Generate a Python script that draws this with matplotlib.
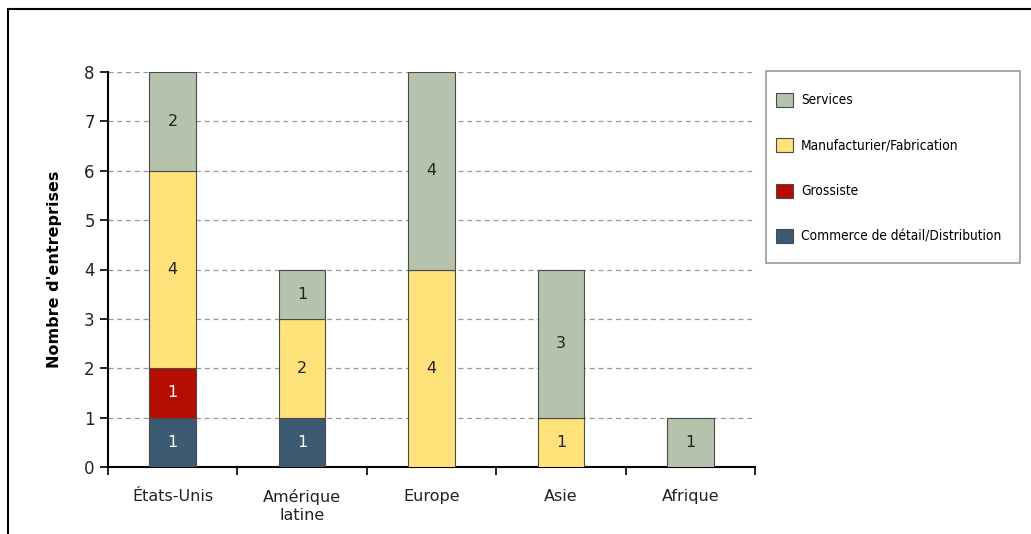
import matplotlib
matplotlib.use("Agg")
import matplotlib.pyplot as plt
from matplotlib.patches import Rectangle
import numpy as np

categories = ["États-Unis", "Amérique\nlatine", "Europe", "Asie", "Afrique"]
series_names = ["Commerce de détail/Distribution", "Grossiste",
                "Manufacturier/Fabrication", "Services"]
commerce = [1, 1, 0, 0, 0]
grossiste = [1, 0, 0, 0, 0]
manufacturier = [4, 2, 4, 1, 0]
services = [2, 1, 4, 3, 1]
yticks = [0, 1, 2, 3, 4, 5, 6, 7, 8]

colors = ["#3d5a73", "#b50d00", "#ffe27a", "#b5c3ad"]
text_colors = ["white", "white", "#222222", "#222222"]

W, H = 1031, 534
fig = plt.figure(figsize=(W/100, H/100), dpi=100)
ax = fig.add_axes([108/W, 1-467/H, (755-108)/W, (467-72)/H])

x = np.arange(len(categories))
bottom = np.zeros(len(categories))
width = 0.36
all_series = [commerce, grossiste, manufacturier, services]
handles = []
for vals, col, tc, name in zip(all_series, colors, text_colors, series_names):
    vals = np.array(vals, dtype=float)
    bars = ax.bar(x, vals, width, bottom=bottom, color=col, edgecolor="#4a4a4a",
                  linewidth=0.8, label=name, zorder=3)
    for xi, v, b in zip(x, vals, bottom):
        if v > 0:
            ax.text(xi, b + v/2, f"{int(v)}", ha="center", va="center",
                    color=tc, fontsize=11.5, zorder=4)
    bottom += vals
    handles.append(bars)

ax.set_xlim(-0.5, 4.5)
ax.set_ylim(0, 8)
ax.set_yticks(yticks)
ax.set_xticks(x)
ax.set_xticklabels(categories, fontsize=11.5, color="#222222")
ax.tick_params(axis="x", length=0, pad=16)
ax.set_xticks(np.arange(-0.5, 5.0, 1.0), minor=True)
ax.tick_params(axis="x", which="minor", length=6, width=1.2, direction="out")
ax.tick_params(axis="y", labelsize=12, length=6, width=1.2, labelcolor="#222222")
ax.yaxis.grid(True, linestyle=(0, (4, 3)), color="#999999", linewidth=0.9, zorder=0)
for s in ["top", "right"]:
    ax.spines[s].set_visible(False)
ax.spines["left"].set_linewidth(1.5)
ax.spines["bottom"].set_linewidth(1.5)
ax.set_ylabel("Nombre d'entreprises", fontsize=11.5, fontweight="bold", labelpad=16)

# legend frame
fig.add_artist(Rectangle((766/W, 1-263/H), (1020-766)/W, (263-71)/H,
                         transform=fig.transFigure, fill=True, facecolor="white",
                         edgecolor="#999999", linewidth=1.2))
prop = {"family": "DejaVu Sans", "stretch": "condensed", "size": 9.8}
leg = fig.legend(handles[::-1], series_names[::-1],
                 loc="upper left", bbox_to_anchor=(776/W, 1-92.5/H),
                 frameon=False, prop=prop,
                 handlelength=1.25, handleheight=1.25,
                 labelspacing=2.26, borderpad=0, handletextpad=0.6,
                 borderaxespad=0)

# outer frame
fig.add_artist(Rectangle((8/W, -0.05), 1.1, 1-9/H+0.05, transform=fig.transFigure,
                         fill=False, edgecolor="black", linewidth=1.5))

fig.savefig("out.png", dpi=100)
